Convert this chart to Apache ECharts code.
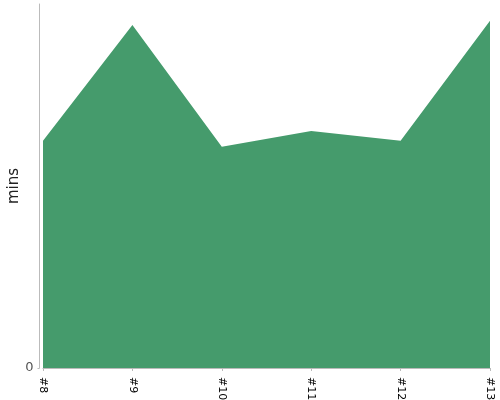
<!DOCTYPE html>
<html><head><meta charset="utf-8">
<script src="https://cdn.jsdelivr.net/npm/echarts@6/dist/echarts.min.js"></script>
<style>html,body{margin:0;padding:0;background:#fff}#c{width:500px;height:400px}</style>
</head><body><div id="c"></div>
<script>
const categories = ['#8', '#9', '#10', '#11', '#12', '#13'];
const minsValues = [62.4, 94.2, 60.8, 65.1, 62.4, 95.4];
const yTickValues = [0];

const chart = echarts.init(document.getElementById('c'), null, {renderer: 'canvas'});
chart.setOption({
  animation: false,
  grid: {left: 43, right: 10, top: 4, bottom: 32, containLabel: false, outerBoundsMode: 'none'},
  xAxis: {
    type: 'category',
    data: categories,
    boundaryGap: false,
    offset: 4,
    axisLine: {lineStyle: {color: '#bbb', width: 1}},
    axisTick: {show: true, length: 3, alignWithLabel: true, lineStyle: {color: '#bbb'}},
    axisLabel: {rotate: -90, color: '#000', fontSize: 11, fontFamily: 'DejaVu Sans', margin: 5}
  },
  yAxis: {
    type: 'value',
    min: 0, max: 100, interval: 100,
    offset: 3.5,
    name: 'mins',
    nameLocation: 'middle',
    nameGap: 18,
    nameMoveOverlap: false,
    nameTextStyle: {fontSize: 15, color: '#222', fontFamily: 'DejaVu Sans'},
    splitLine: {show: false},
    axisLine: {show: true, lineStyle: {color: '#bbb', width: 1}},
    axisTick: {show: true, length: 2, lineStyle: {color: '#bbb'}, customValues: yTickValues},
    axisLabel: {color: '#555', fontSize: 13, fontFamily: 'DejaVu Sans', margin: 6, customValues: yTickValues}
  },
  series: [{
    type: 'line',
    data: minsValues,
    symbol: 'none',
    lineStyle: {width: 0},
    areaStyle: {color: '#459b6c', opacity: 1},
    itemStyle: {color: '#459b6c'}
  }]
});
</script></body></html>
